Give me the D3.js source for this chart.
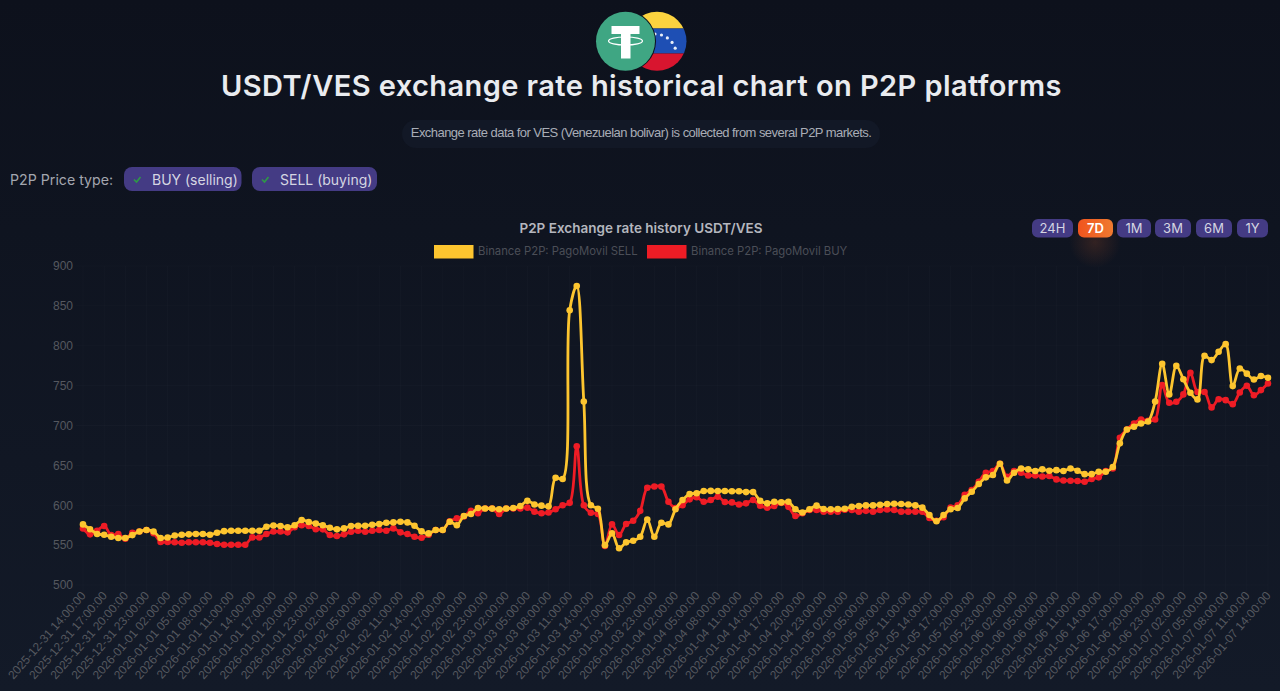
<!DOCTYPE html>
<html>
<head>
<meta charset="utf-8">
<script src="https://cdnjs.cloudflare.com/ajax/libs/d3/7.8.5/d3.min.js"></script>
<style>
  html, body { margin: 0; padding: 0; background: #0e131f; overflow: hidden; }
  svg { display: block; }
</style>
</head>
<body>
<div id="chart"></div>
<script>
const startTime = "2025-12-31T14:00:00Z";
const endTime = "2026-01-07T14:00:00Z";

const yTicks = [500, 550, 600, 650, 700, 750, 800, 850, 900];
const priceTypes = ["BUY (selling)", "SELL (buying)"];
const ranges = ["24H", "7D", "1M", "3M", "6M", "1Y"];
const sellLabel = "Binance P2P: PagoMovil SELL";
const buyLabel = "Binance P2P: PagoMovil BUY";

// hourly values
const sellValues = [
  576, 570, 564, 563, 560.5, 559, 559, 562.6, 567, 569,
  567, 559, 559.5, 562, 563, 563.5, 564, 564, 563, 565.5,
  567.5, 568, 568, 568, 568, 568, 573, 574.7, 574, 572.5,
  575, 581.5, 579, 577, 575, 571.8, 569.8, 571, 574, 574.3,
  574.3, 575.6, 576.4, 578, 578.5, 579.4, 578.5, 574.3, 567.2, 564.7,
  569, 569, 579.4, 575, 586.5, 589, 596.5, 596, 595.8, 595,
  596, 596.5, 599, 605.5, 601, 599.5, 598.6, 634.5, 633, 844.6,
  875, 730, 600, 595.6, 550, 564.7, 546, 553.5, 555.5, 560.5,
  582, 560.5, 578, 576, 595, 606.5, 614, 615, 617.8, 618,
  617.8, 617.8, 617.6, 617.6, 616.5, 616.5, 605.6, 602.4, 604.4, 603.6,
  604.4, 595, 591, 595, 599.5, 595.3, 595, 595.3, 595.6, 598,
  599, 599.8, 599.8, 600.7, 601.5, 601.8, 601.5, 601, 599.8, 597,
  587.7, 580, 587.7, 595, 596.6, 608.6, 617, 626.6, 635, 638,
  652, 631, 640.8, 646, 645, 643, 645, 643.3, 644, 643,
  646, 643.3, 639, 639, 642, 642, 648, 677.6, 695, 698.4,
  702.6, 705, 730, 777.4, 739, 774.8, 758, 741, 732.7, 787.4,
  782, 792.4, 802, 749.4, 771.5, 765, 757.7, 762, 759.8
];

const buyValues = [
  571, 563.5, 568, 574, 562.6, 564, 558, 565.5, 567, 569,
  565, 554, 554, 553.6, 553, 553.6, 553.6, 553.6, 553, 551.5,
  550.5, 550.5, 550.5, 550.5, 559.7, 559.5, 564, 567, 567, 566,
  572.5, 575, 574, 570, 569.8, 562.7, 561.4, 563.5, 566.8, 568,
  566.8, 568, 569, 568, 571, 566, 564, 560.5, 559.3, 563,
  569, 569, 580, 583.6, 586, 593, 590, 596, 596, 589,
  595.8, 596, 596, 597, 592, 590, 591, 595, 600, 603,
  674, 600, 590.6, 589, 549, 576, 562.7, 576.4, 580.6, 593,
  622, 623.5, 623.5, 604.4, 596.5, 600, 607.4, 610, 604.4, 606.5,
  610.7, 604, 603.6, 601, 602.4, 606.5, 599.4, 597, 599, 603,
  598, 586.5, 590, 594, 594, 592, 592, 592, 594.5, 594,
  592, 593, 592, 594, 594.6, 594, 592, 592, 592, 592,
  584, 580.6, 585, 597, 600, 613, 619, 629.5, 640.7, 643,
  652, 635.8, 643, 640.8, 637.4, 637.4, 636, 636.6, 632.4, 631,
  630.8, 630.5, 629.5, 633, 635, 643, 646, 684.6, 695, 702.6,
  707.6, 706, 707.6, 750.6, 728.5, 729.7, 739, 766, 742, 742,
  722.7, 733, 731.8, 726.8, 741.4, 749.8, 738, 744.4, 752.7
];

const width = 1280, height = 691;
const sellColor = "#fdc52f", buyColor = "#ee1c25";
const chipColor = "#443b84";

const svg = d3.select("#chart").append("svg").attr("width", width).attr("height", height);
const defs = svg.append("defs");

// page background, a little lighter at the bottom
const bg = defs.append("linearGradient").attr("id", "bg").attr("x1", 0).attr("x2", 0).attr("y1", 0).attr("y2", 1);
bg.append("stop").attr("offset", "0%").attr("stop-color", "#0d111c");
bg.append("stop").attr("offset", "100%").attr("stop-color", "#131a28");
svg.append("rect").attr("width", width).attr("height", height).attr("fill", "url(#bg)");

// logo
const flagX = 657, tetherX = 625.5, logoY = 41.3, logoR = 29.5;
const clip = defs.append("clipPath").attr("id", "flagClip");
clip.append("circle").attr("cx", flagX).attr("cy", logoY).attr("r", logoR);
const flag = svg.append("g").attr("clip-path", "url(#flagClip)");
flag.append("rect").attr("x", flagX - logoR).attr("y", 11).attr("width", 60).attr("height", 17.5).attr("fill", "#fcd33f");
flag.append("rect").attr("x", flagX - logoR).attr("y", 28.5).attr("width", 60).attr("height", 25).attr("fill", "#1e4fb4");
flag.append("rect").attr("x", flagX - logoR).attr("y", 53.5).attr("width", 60).attr("height", 18).attr("fill", "#d8152f");
d3.range(-90, -15, 17.5).forEach((deg) => {
  flag.append("circle")
    .attr("cx", 655 + 21.5 * Math.cos(deg * Math.PI / 180))
    .attr("cy", 55.5 + 21.5 * Math.sin(deg * Math.PI / 180))
    .attr("r", 1.6).attr("fill", "#e8eef8");
});
svg.append("circle").attr("cx", tetherX).attr("cy", logoY).attr("r", logoR + 1).attr("fill", "#0d111c");
svg.append("circle").attr("cx", tetherX).attr("cy", logoY).attr("r", logoR).attr("fill", "#3fa683");
svg.append("rect").attr("x", 611.5).attr("y", 26).attr("width", 28).attr("height", 8).attr("fill", "#fff");
svg.append("rect").attr("x", 621).attr("y", 26).attr("width", 9.5).attr("height", 32.5).attr("fill", "#fff");
svg.append("ellipse").attr("cx", tetherX).attr("cy", 41).attr("rx", 17).attr("ry", 4)
  .attr("fill", "none").attr("stroke", "#fff").attr("stroke-width", 1.2);

// headings
svg.append("text").attr("x", 641.5).attr("y", 96).attr("text-anchor", "middle")
  .attr("font-family", "Inter").attr("font-weight", 600).attr("font-size", 29).attr("letter-spacing", 0.42)
  .attr("fill", "#e9ebef").text("USDT/VES exchange rate historical chart on P2P platforms");
svg.append("rect").attr("x", 402).attr("y", 120).attr("width", 478).attr("height", 28).attr("rx", 14).attr("fill", "#121826");
svg.append("text").attr("x", 641).attr("y", 137).attr("text-anchor", "middle")
  .attr("font-family", "Liberation Sans").attr("font-size", 13).attr("letter-spacing", -0.55)
  .attr("fill", "#a9adb6").text("Exchange rate data for VES (Venezuelan bolivar) is collected from several P2P markets.");

// price type chips
svg.append("text").attr("x", 10).attr("y", 184.5)
  .attr("font-family", "Inter").attr("font-size", 14.2).attr("fill", "#a3a6af").text("P2P Price type:");
const chipX = [124, 252], chipW = [117.5, 125];
priceTypes.forEach((label, i) => {
  svg.append("rect").attr("x", chipX[i]).attr("y", 167).attr("width", chipW[i]).attr("height", 24).attr("rx", 8).attr("fill", chipColor);
  svg.append("path")
    .attr("d", `M${chipX[i] + 10},179.5 l2.5,2.5 l4,-5`)
    .attr("fill", "none").attr("stroke", "#2e9a46").attr("stroke-width", 1.6);
  svg.append("text").attr("x", chipX[i] + 28).attr("y", 184.5)
    .attr("font-family", "Inter").attr("font-size", 14).attr("fill", "#d5d6e2").text(label);
});

// chart title and legend
svg.append("text").attr("x", 641).attr("y", 233).attr("text-anchor", "middle")
  .attr("font-family", "Inter").attr("font-weight", 600).attr("font-size", 13.5)
  .attr("fill", "#b4b6be").text("P2P Exchange rate history USDT/VES");
[[434, sellColor, sellLabel], [647, buyColor, buyLabel]].forEach(([lx, color, label]) => {
  svg.append("rect").attr("x", lx).attr("y", 245).attr("width", 39.5).attr("height", 13.5).attr("fill", color);
  svg.append("text").attr("x", lx + 44).attr("y", 255)
    .attr("font-family", "Inter").attr("font-size", 11.3).attr("fill", "#4b4e57").text(label);
});

// range buttons
const rangeX = [1032, 1078, 1117, 1155, 1196, 1237], rangeW = [41, 35, 34, 36, 36, 31];
const orange = defs.append("linearGradient").attr("id", "orange");
orange.append("stop").attr("offset", "0%").attr("stop-color", "#f0541e");
orange.append("stop").attr("offset", "100%").attr("stop-color", "#ef7a30");
const glow = defs.append("radialGradient").attr("id", "glow");
glow.append("stop").attr("offset", "0%").attr("stop-color", "#ef6a2a").attr("stop-opacity", 0.16);
glow.append("stop").attr("offset", "100%").attr("stop-color", "#ef6a2a").attr("stop-opacity", 0);
svg.append("ellipse").attr("cx", 1095).attr("cy", 242).attr("rx", 26).attr("ry", 26).attr("fill", "url(#glow)");
ranges.forEach((label, i) => {
  svg.append("rect").attr("x", rangeX[i]).attr("y", 219).attr("width", rangeW[i]).attr("height", 18.5).attr("rx", 6)
    .attr("fill", label === "7D" ? "url(#orange)" : chipColor);
  svg.append("text").attr("x", rangeX[i] + rangeW[i] / 2).attr("y", 233).attr("text-anchor", "middle")
    .attr("font-family", "Inter").attr("font-weight", label === "7D" ? 600 : 400).attr("font-size", 13)
    .attr("fill", label === "7D" ? "#fff" : "#d5d6e2").text(label);
});

// scales
const parseTime = d3.utcParse("%Y-%m-%dT%H:%M:%SZ");
const hours = d3.utcHour.range(parseTime(startTime), d3.utcHour.offset(parseTime(endTime), 1));
const sellData = hours.map((t, i) => ({ t, v: sellValues[i] }));
const buyData = hours.map((t, i) => ({ t, v: buyValues[i] }));

const x = d3.scaleUtc().domain([parseTime(startTime), parseTime(endTime)]).range([83, 1268]);
const y = d3.scaleLinear().domain([500, 900]).range([585, 266]);
const xTicks = d3.utcHour.range(parseTime(startTime), d3.utcHour.offset(parseTime(endTime), 1), 3);

// grid
const grid = svg.append("g").attr("stroke", "#fff").attr("stroke-opacity", 0.018);
xTicks.forEach((t) => grid.append("line").attr("x1", x(t)).attr("x2", x(t)).attr("y1", 266).attr("y2", 592));
yTicks.forEach((v) => grid.append("line").attr("x1", 76).attr("x2", 1268).attr("y1", y(v)).attr("y2", y(v)));

// axes
const yAxis = svg.append("g").attr("transform", "translate(83,0)")
  .call(d3.axisLeft(y).tickValues(yTicks).tickSize(0).tickPadding(10));
yAxis.select(".domain").remove();
yAxis.selectAll("text").attr("font-family", "Liberation Sans").attr("font-size", 12).attr("fill", "#55585f");

const xAxis = svg.append("g").attr("transform", "translate(0,585)")
  .call(d3.axisBottom(x).tickValues(xTicks).tickSize(0).tickFormat(d3.utcFormat("%Y-%m-%d %H:%M:%S")));
xAxis.select(".domain").remove();
xAxis.selectAll("text")
  .attr("font-family", "Liberation Sans").attr("font-size", 12).attr("fill", "#55585f")
  .attr("text-anchor", "end").attr("dx", 0).attr("dy", 0)
  .attr("y", 0)
  .attr("transform", "translate(3,11) rotate(-49)");

// series, sell is painted last
const line = d3.line().x((d) => x(d.t)).y((d) => y(d.v)).curve(d3.curveCatmullRom.alpha(0.5));
[[buyData, buyColor], [sellData, sellColor]].forEach(([data, color]) => {
  svg.append("path").datum(data).attr("fill", "none").attr("stroke", color).attr("stroke-width", 2.8).attr("d", line);
  svg.append("g").selectAll("circle").data(data).enter().append("circle")
    .attr("cx", (d) => x(d.t)).attr("cy", (d) => y(d.v)).attr("r", 3.3).attr("fill", color);
});
</script>
</body>
</html>
